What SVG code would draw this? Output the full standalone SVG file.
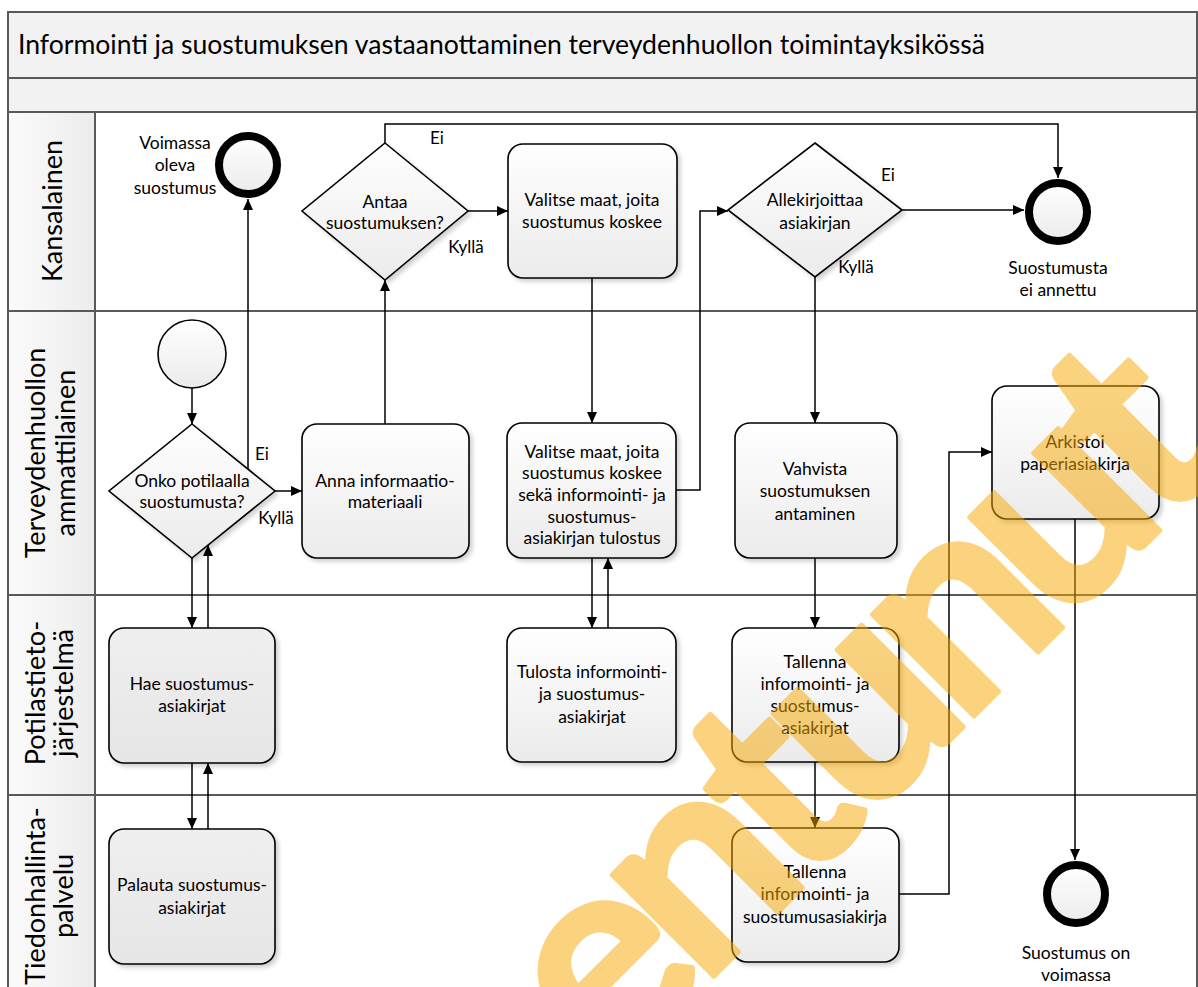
<svg xmlns="http://www.w3.org/2000/svg" width="1198" height="987" viewBox="0 0 1198 987">
<defs>
<linearGradient id="gNode" x1="0" y1="0" x2="0" y2="1"><stop offset="0" stop-color="#ffffff"/><stop offset="1" stop-color="#ebebeb"/></linearGradient>
<linearGradient id="gGray" x1="0" y1="0" x2="0" y2="1"><stop offset="0" stop-color="#efefef"/><stop offset="1" stop-color="#e6e6e6"/></linearGradient>
<linearGradient id="gHead" x1="0" y1="0" x2="1" y2="0"><stop offset="0" stop-color="#fbfbfb"/><stop offset="1" stop-color="#ececec"/></linearGradient>
<filter id="sh" x="-10%" y="-10%" width="130%" height="130%"><feDropShadow dx="3" dy="3" stdDeviation="2" flood-color="#000" flood-opacity="0.18"/></filter>
<marker id="arr" markerUnits="userSpaceOnUse" markerWidth="12" markerHeight="10" refX="11" refY="5" orient="auto"><path d="M0,0 L11,5 L0,10 z" fill="#000"/></marker>
<style>
.lane{fill:none;stroke:#595959;stroke-width:2}
.band{fill:#f2f2f2;stroke:#595959;stroke-width:2}
.head{fill:url(#gHead);stroke:#595959;stroke-width:2}
.task{fill:url(#gNode);stroke:#000;stroke-width:1.6;filter:url(#sh)}
.task2{fill:url(#gGray);stroke:#000;stroke-width:1.6;filter:url(#sh)}
.gw{fill:url(#gNode);stroke:#000;stroke-width:1.6;filter:url(#sh)}
.start{fill:url(#gNode);stroke:#000;stroke-width:1.6}
.end{fill:url(#gNode);stroke:#000;stroke-width:8}
.c{fill:none;stroke:#000;stroke-width:1.5;marker-end:url(#arr)}
text{font-family:Lato,"Liberation Sans",sans-serif;fill:#000}
.t{font-size:17.5px;text-anchor:middle}
.lbl{font-size:17px;text-anchor:middle}
.ln{font-size:27px;text-anchor:middle}
.title{font-size:27px}
.wm{font-family:Lato,"Liberation Sans",sans-serif;font-weight:bold;font-size:280px;fill:#F8A900;stroke:#F8A900;stroke-width:5;stroke-linejoin:round}
</style>
</defs>
<rect x="0" y="0" width="1198" height="987" fill="#fff"/>

<g id="pool">
<rect class="band" x="8" y="12" width="1189" height="66"/>
<rect class="band" x="8" y="78" width="1189" height="34"/>
<rect class="lane" x="8" y="112" width="1189" height="199"/>
<rect class="lane" x="8" y="311" width="1189" height="284"/>
<rect class="lane" x="8" y="595" width="1189" height="200"/>
<rect class="lane" x="8" y="795" width="1189" height="200"/>
<rect class="head" x="8" y="112" width="87" height="199"/>
<rect class="head" x="8" y="311" width="87" height="284"/>
<rect class="head" x="8" y="595" width="87" height="200"/>
<rect class="head" x="8" y="795" width="87" height="200"/>
<text class="title" x="18" y="54" textLength="967" lengthAdjust="spacingAndGlyphs">Informointi ja suostumuksen vastaanottaminen terveydenhuollon toimintayksikössä</text>
<text class="ln" transform="translate(62,211) rotate(-90)" font-size="28">Kansalainen</text>
<text class="ln" transform="translate(45,453) rotate(-90)" font-size="24">Terveydenhuollon</text>
<text class="ln" transform="translate(75,453) rotate(-90)" font-size="24">ammattilainen</text>
<text class="ln" transform="translate(45,693) rotate(-90)">Potilastieto-</text>
<text class="ln" transform="translate(73,693) rotate(-90)">järjestelmä</text>
<text class="ln" transform="translate(45,896) rotate(-90)">Tiedonhallinta-</text>
<text class="ln" transform="translate(73,896) rotate(-90)">palvelu</text>
</g>

<g id="connectors">
<path class="c" d="M192,388 L192,424"/>
<path class="c" d="M275,491 L302,491"/>
<path class="c" d="M248,469 L248,199"/>
<path class="c" d="M385,424 L385,280"/>
<path class="c" d="M385,143 L385,124 L1058,124 L1058,178"/>
<path class="c" d="M468,211 L508,211"/>
<path class="c" d="M592,278 L592,423"/>
<path class="c" d="M676,490 L700,490 L700,211 L728,211"/>
<path class="c" d="M902,210 L1024,210"/>
<path class="c" d="M815,277 L815,423"/>
<path class="c" d="M815,558 L815,628"/>
<path class="c" d="M815,762 L815,828"/>
<path class="c" d="M899,894 L949,894 L949,452 L992,452"/>
<path class="c" d="M1075,519 L1075,860"/>
<path class="c" d="M192,558 L192,628"/>
<path class="c" d="M208,628 L208,545"/>
<path class="c" d="M192,763 L192,829"/>
<path class="c" d="M208,829 L208,763"/>
<path class="c" d="M592,558 L592,628"/>
<path class="c" d="M608,628 L608,558"/>
<text class="lbl" x="262" y="460">Ei</text>
<text class="lbl" x="276" y="524">Kyllä</text>
<text class="lbl" x="437" y="144">Ei</text>
<text class="lbl" x="466" y="253">Kyllä</text>
<text class="lbl" x="888" y="181">Ei</text>
<text class="lbl" x="856" y="273">Kyllä</text>
</g>

<g id="start">
<circle class="start" cx="192" cy="354" r="34"/>
</g>

<g id="end-voimassa">
<circle class="end" cx="248" cy="165" r="29"/>
<text class="t" x="175" y="149">Voimassa</text>
<text class="t" x="175" y="171">oleva</text>
<text class="t" x="175" y="194">suostumus</text>
</g>

<g id="gw-onko">
<path class="gw" d="M192,424 L275,491 L192,558 L109,491 Z"/>
<text class="t" x="192" y="487">Onko potilaalla</text>
<text class="t" x="192" y="508">suostumusta?</text>
</g>

<g id="task-anna">
<rect class="task" x="302" y="424" width="167" height="134" rx="15"/>
<text class="t" x="385" y="487">Anna informaatio-</text>
<text class="t" x="385" y="508">materiaali</text>
</g>

<g id="gw-antaa">
<path class="gw" d="M385,143 L468,211 L385,280 L302,211 Z"/>
<text class="t" x="385" y="208">Antaa</text>
<text class="t" x="385" y="229">suostumuksen?</text>
</g>

<g id="task-valitse1">
<rect class="task" x="508" y="144" width="169" height="134" rx="15"/>
<text class="t" x="592" y="206">Valitse maat, joita</text>
<text class="t" x="592" y="228">suostumus koskee</text>
</g>

<g id="task-valitse2">
<rect class="task" x="507" y="423" width="169" height="135" rx="15"/>
<text class="t" x="592" y="458">Valitse maat, joita</text>
<text class="t" x="592" y="479">suostumus koskee</text>
<text class="t" x="592" y="501">sekä informointi- ja</text>
<text class="t" x="592" y="523">suostumus-</text>
<text class="t" x="592" y="544">asiakirjan tulostus</text>
</g>

<g id="gw-allekirjoittaa">
<path class="gw" d="M815,143 L902,210 L815,277 L728,210 Z"/>
<text class="t" x="815" y="206">Allekirjoittaa</text>
<text class="t" x="815" y="229">asiakirjan</text>
</g>

<g id="end-ei-annettu">
<circle class="end" cx="1058" cy="212" r="29"/>
<text class="t" x="1058" y="274">Suostumusta</text>
<text class="t" x="1058" y="296">ei annettu</text>
</g>

<g id="task-vahvista">
<rect class="task" x="735" y="423" width="162" height="135" rx="15"/>
<text class="t" x="815" y="475">Vahvista</text>
<text class="t" x="815" y="497">suostumuksen</text>
<text class="t" x="815" y="520">antaminen</text>
</g>

<g id="task-arkistoi">
<rect class="task" x="992" y="386" width="167" height="133" rx="15"/>
<text class="t" x="1075" y="448">Arkistoi</text>
<text class="t" x="1075" y="470">paperiasiakirja</text>
</g>

<g id="end-voimassa2">
<circle class="end" cx="1076" cy="894" r="29"/>
<text class="t" x="1076" y="959">Suostumus on</text>
<text class="t" x="1076" y="981">voimassa</text>
</g>

<g id="task-hae">
<rect class="task2" x="109" y="628" width="166" height="135" rx="15"/>
<text class="t" x="192" y="690">Hae suostumus-</text>
<text class="t" x="192" y="712">asiakirjat</text>
</g>

<g id="task-tulosta">
<rect class="task" x="507" y="628" width="169" height="134" rx="15"/>
<text class="t" x="592" y="678">Tulosta informointi-</text>
<text class="t" x="592" y="700">ja suostumus-</text>
<text class="t" x="592" y="723">asiakirjat</text>
</g>

<g id="task-tallenna1">
<rect class="task" x="732" y="628" width="167" height="134" rx="15"/>
<text class="t" x="815" y="668">Tallenna</text>
<text class="t" x="815" y="690">informointi- ja</text>
<text class="t" x="815" y="712">suostumus-</text>
<text class="t" x="815" y="734">asiakirjat</text>
</g>

<g id="task-palauta">
<rect class="task2" x="109" y="829" width="166" height="135" rx="15"/>
<text class="t" x="192" y="891">Palauta suostumus-</text>
<text class="t" x="192" y="914">asiakirjat</text>
</g>

<g id="task-tallenna2">
<rect class="task" x="732" y="828" width="167" height="134" rx="15"/>
<text class="t" x="815" y="878">Tallenna</text>
<text class="t" x="815" y="900">informointi- ja</text>
<text class="t" x="815" y="923">suostumusasiakirja</text>
</g>

<g id="watermark" opacity="0.5">
<text class="wm" transform="translate(800,890) rotate(-45)" x="-831 -675 -548 -409 -270 -139 0 90 229 368 508" y="0">Vanhentunut</text>
</g>
</svg>
